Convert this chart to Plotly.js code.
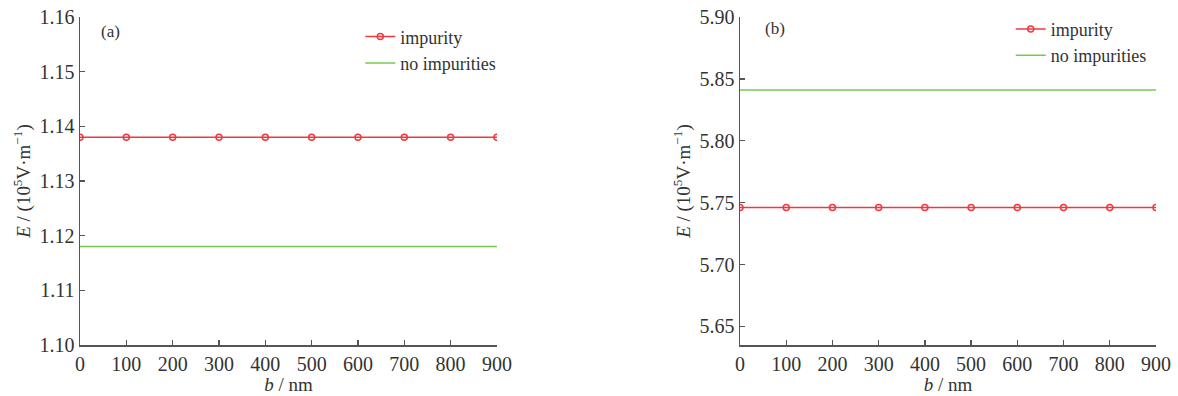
<!DOCTYPE html>
<html>
<head>
<meta charset="utf-8">
<script src="https://cdn.plot.ly/plotly-3.0.1.min.js"></script>
<style>html,body{margin:0;padding:0;background:#fff;}#chart{width:1178px;height:396px;}</style>
</head>
<body>
<div id="chart"></div>
<script>
// Data
const b = [0, 100, 200, 300, 400, 500, 600, 700, 800, 900];
const impurityA = [1.138, 1.138, 1.138, 1.138, 1.138, 1.138, 1.138, 1.138, 1.138, 1.138];
const noImpuritiesA = [1.118, 1.118, 1.118, 1.118, 1.118, 1.118, 1.118, 1.118, 1.118, 1.118];
const impurityB = [5.746, 5.746, 5.746, 5.746, 5.746, 5.746, 5.746, 5.746, 5.746, 5.746];
const noImpuritiesB = [5.841, 5.841, 5.841, 5.841, 5.841, 5.841, 5.841, 5.841, 5.841, 5.841];
const seriesNames = ['impurity', 'no impurities'];
const panelLabels = ['(a)', '(b)'];
const xTitle = '<i>b</i> / nm';
const yTitle = '<i>E</i> / (10<sup>5</sup>V·m<sup>−1</sup>)';

const RED = '#ee3a3e';
const GREEN = '#78c84e';
const FONT = '"Liberation Serif", "DejaVu Serif", serif';
const TXT = '#333333';

function redTrace(y, xa, ya, leg) {
  return {x: b, y: y, xaxis: xa, yaxis: ya, name: seriesNames[0], legend: leg,
    mode: 'lines+markers', line: {color: RED, width: 1.5},
    marker: {symbol: 'circle-open', size: 6, color: RED, line: {width: 1.5, color: RED}}};
}
function greenTrace(y, xa, ya, leg) {
  return {x: b, y: y, xaxis: xa, yaxis: ya, name: seriesNames[1], legend: leg,
    mode: 'lines', line: {color: GREEN, width: 1.5}};
}

const traces = [
  redTrace(impurityA, 'x', 'y', 'legend'),
  greenTrace(noImpuritiesA, 'x', 'y', 'legend'),
  redTrace(impurityB, 'x2', 'y2', 'legend2'),
  greenTrace(noImpuritiesB, 'x2', 'y2', 'legend2')
];

const axisCommon = {
  showline: true, linecolor: '#555555', linewidth: 1.5, mirror: false,
  showgrid: false, zeroline: false, ticks: 'inside', ticklen: 5, tickwidth: 1.3,
  tickcolor: '#555555', tickfont: {family: FONT, size: 20, color: TXT}
};

function xAxis(domain, anchor) {
  return Object.assign({}, axisCommon, {
    domain: domain, anchor: anchor, range: [0, 900], tick0: 0, dtick: 100,
    title: {text: xTitle, font: {family: FONT, size: 19, color: TXT}, standoff: 0}
  });
}
function yAxis(range, tick0, dtick, anchor) {
  return Object.assign({}, axisCommon, {
    domain: [0, 1], anchor: anchor, range: range, tick0: tick0, dtick: dtick, tickformat: '.2f',
    title: {text: yTitle, font: {family: FONT, size: 19, color: TXT}, standoff: 4}
  });
}

const legendCommon = {
  font: {family: FONT, size: 18, color: TXT}, bgcolor: 'rgba(0,0,0,0)',
  borderwidth: 0, xanchor: 'left', yanchor: 'top', tracegroupgap: 0, itemwidth: 30
};

const layout = {
  width: 1178, height: 396,
  margin: {l: 80, r: 22, t: 16, b: 51},
  paper_bgcolor: '#ffffff', plot_bgcolor: '#ffffff',
  showlegend: true,
  xaxis: xAxis([0, 0.3875], 'y'),
  yaxis: yAxis([1.10, 1.16], 1.10, 0.01, 'x'),
  xaxis2: xAxis([0.6134, 1], 'y2'),
  yaxis2: yAxis([5.635, 5.90], 5.65, 0.05, 'x2'),
  legend: Object.assign({}, legendCommon, {x: 0.2605, y: 0.993}),
  legend2: Object.assign({}, legendCommon, {x: 0.865, y: 1.016}),
  annotations: [
    {text: panelLabels[0], xref: 'paper', yref: 'paper', x: 0.0177, y: 0.955, xanchor: 'left', yanchor: 'middle',
     showarrow: false, font: {family: FONT, size: 17, color: TXT}},
    {text: panelLabels[1], xref: 'paper', yref: 'paper', x: 0.635, y: 0.965, xanchor: 'left', yanchor: 'middle',
     showarrow: false, font: {family: FONT, size: 17, color: TXT}}
  ]
};

Plotly.newPlot('chart', traces, layout, {displayModeBar: false, staticPlot: true});
</script>
</body>
</html>
